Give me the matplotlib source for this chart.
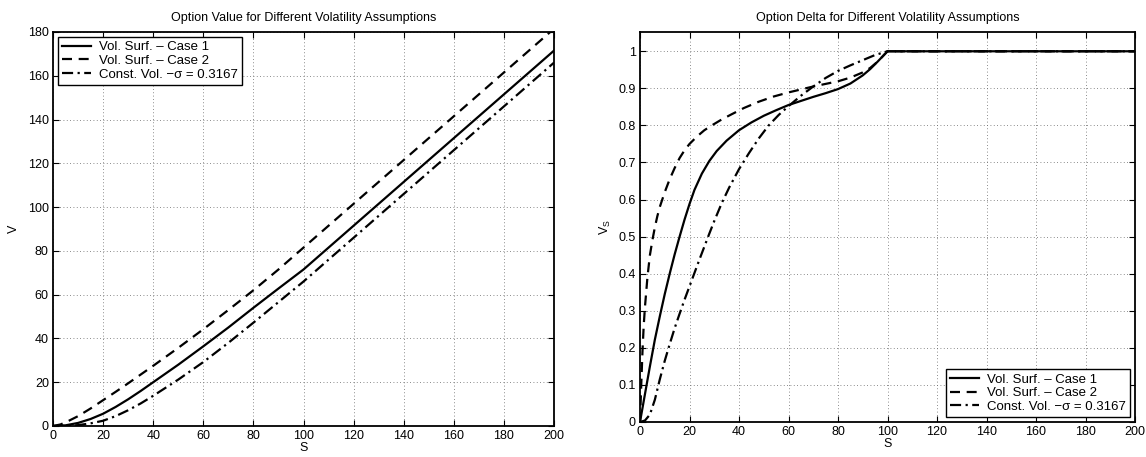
import matplotlib
matplotlib.use("Agg")
import matplotlib.pyplot as plt

plt.rcParams['font.family'] = ['Liberation Sans', 'DejaVu Sans']
plt.rcParams['mathtext.default'] = 'regular'
plt.rcParams['font.size'] = 9

# option value V(S)
s_v1 = [0, 5, 10, 15, 20, 25, 30, 35, 40, 50, 60, 70, 80, 90, 100, 200]
v_case1 = [0, 0.3, 1.4, 3.2, 5.6, 8.7, 12.2, 16, 20, 28, 36.4, 45, 54, 62.8, 71.5, 171.5]
s_v2 = [0, 3, 6, 10, 15, 20, 25, 30, 40, 50, 60, 70, 80, 90, 100, 200]
v_case2 = [0, 0.7, 2.2, 4.5, 8, 11.8, 15.6, 19.5, 27.5, 35.7, 44.2, 53, 62, 71.5, 81.5, 181.5]
s_v3 = [0, 5, 10, 15, 20, 25, 30, 35, 40, 50, 60, 70, 80, 90, 100, 200]
v_const = [0, 0.05, 0.4, 1.2, 2.4, 4.5, 7.2, 10.3, 13.8, 21.2, 29.2, 38, 47.2, 56.6, 66, 166]

# option delta V_S
s_d1 = [0, 2, 4, 6, 8, 10, 12, 14, 16, 18, 20, 22, 25, 28, 31, 35, 40, 45, 50, 55, 60, 65, 70,
        75, 80, 85, 90, 93, 96, 98, 100, 200]
d_case1 = [0, 0.075, 0.15, 0.222, 0.285, 0.345, 0.4, 0.452, 0.5, 0.546, 0.588, 0.626, 0.67,
           0.704, 0.731, 0.759, 0.787, 0.808, 0.826, 0.841, 0.855, 0.866, 0.877, 0.887, 0.898,
           0.913, 0.935, 0.952, 0.972, 0.986, 1.0, 1.0]
s_d2 = [0, 0.5, 1, 1.5, 2, 3, 4, 5, 6, 7, 8, 10, 12, 14, 16, 18, 20, 23, 26, 29, 33, 37, 42, 48,
        54, 60, 65, 70, 75, 80, 85, 90, 93, 96, 98, 100, 200]
d_case2 = [0, 0.1, 0.19, 0.26, 0.31, 0.39, 0.45, 0.49, 0.525, 0.555, 0.58, 0.62, 0.655, 0.685,
           0.712, 0.733, 0.75, 0.77, 0.787, 0.8, 0.816, 0.83, 0.847, 0.864, 0.878, 0.889, 0.897,
           0.905, 0.912, 0.919, 0.929, 0.943, 0.955, 0.972, 0.986, 1.0, 1.0]
s_d3 = [0, 2, 4, 6, 8, 10, 12, 14, 16, 18, 20, 22, 24, 26, 28, 30, 33, 36, 40, 44, 48, 52, 56,
        60, 65, 70, 75, 80, 85, 90, 95, 100, 200]
d_const = [0, 0.004, 0.02, 0.06, 0.115, 0.165, 0.21, 0.253, 0.292, 0.33, 0.366, 0.402, 0.438,
           0.473, 0.508, 0.542, 0.59, 0.632, 0.682, 0.725, 0.765, 0.8, 0.828, 0.852, 0.88, 0.905,
           0.928, 0.947, 0.962, 0.976, 0.99, 1.0, 1.0]

labels = ['Vol. Surf. \u2013 Case 1', 'Vol. Surf. \u2013 Case 2', 'Const. Vol. \u2212\u03c3 = 0.3167']
x_ticks = list(range(0, 201, 20))
v_ticks = list(range(0, 181, 20))
d_ticks = [0, 0.1, 0.2, 0.3, 0.4, 0.5, 0.6, 0.7, 0.8, 0.9, 1]
d_ticklabels = ['0', '0.1', '0.2', '0.3', '0.4', '0.5', '0.6', '0.7', '0.8', '0.9', '1']

fig = plt.figure(figsize=(11.46, 4.57), dpi=100)
ax1 = fig.add_axes([53 / 1146, 31 / 457, 501 / 1146, 394 / 457])
ax2 = fig.add_axes([640 / 1146, 35 / 457, 495 / 1146, 390 / 457])


def style(ax):
    ax.grid(True, linestyle=(0, (1, 3)), color='#666666', linewidth=0.6)
    ax.tick_params(direction='in', top=True, right=True, length=4, width=0.8,
                   labelsize=9, pad=3)
    for sp in ax.spines.values():
        sp.set_linewidth(1.3)
    ax.set_axisbelow(True)


lw = 1.6
dash = (0, (4.5, 3))
dashdot = (0, (5, 2, 1, 2))

ax1.plot(s_v1, v_case1, 'k-', lw=lw, label=labels[0])
ax1.plot(s_v2, v_case2, color='k', linestyle=dash, lw=lw, label=labels[1])
ax1.plot(s_v3, v_const, color='k', linestyle=dashdot, lw=lw, label=labels[2])
ax1.set_xlim(0, 200)
ax1.set_ylim(0, 180)
ax1.set_xticks(x_ticks)
ax1.set_yticks(v_ticks)
ax1.set_xlabel('S', labelpad=0)
ax1.set_ylabel('V', labelpad=6)
ax1.set_title('Option Value for Different Volatility Assumptions', fontsize=9, pad=8)
style(ax1)
leg1 = ax1.legend(loc='upper left', fancybox=False, edgecolor='k', framealpha=1,
                  borderaxespad=0.4, handlelength=2.2, labelspacing=0.1, borderpad=0.3,
                  handletextpad=0.6, fontsize=9.5)
leg1.get_frame().set_linewidth(1.0)

ax2.plot(s_d1, d_case1, 'k-', lw=lw, label=labels[0])
ax2.plot(s_d2, d_case2, color='k', linestyle=dash, lw=lw, label=labels[1])
ax2.plot(s_d3, d_const, color='k', linestyle=dashdot, lw=lw, label=labels[2])
ax2.set_xlim(0, 200)
ax2.set_ylim(0, 1.052)
ax2.set_xticks(x_ticks)
ax2.set_yticks(d_ticks)
ax2.set_yticklabels(d_ticklabels)
ax2.set_xlabel('S', labelpad=0)
ax2.set_ylabel('V$_S$', labelpad=4)
ax2.set_title('Option Delta for Different Volatility Assumptions', fontsize=9, pad=8)
style(ax2)
leg2 = ax2.legend(loc='lower right', fancybox=False, edgecolor='k', framealpha=1,
                  borderaxespad=0.4, handlelength=2.2, labelspacing=0.1, borderpad=0.3,
                  handletextpad=0.6, fontsize=9.5)
leg2.get_frame().set_linewidth(1.0)

fig.savefig('out.png', dpi=100)
